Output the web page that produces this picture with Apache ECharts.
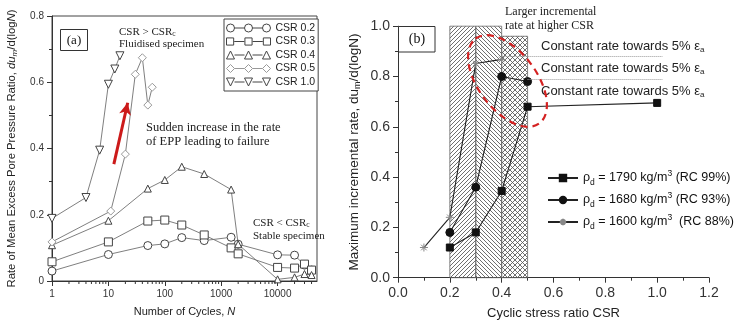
<!DOCTYPE html>
<html>
<head>
<meta charset="utf-8">
<script src="https://cdn.jsdelivr.net/npm/echarts@6/dist/echarts.min.js"></script>
<style>
html, body { margin: 0; padding: 0; background: #fff; }
#chart { width: 736px; height: 326px; }
</style>
</head>
<body>
<div id="chart"></div>
<script>
// ---- (a) 循环次数 - 平均超孔压比增长率 ----
var csrNames = ['CSR 0.2', 'CSR 0.3', 'CSR 0.4', 'CSR 0.5', 'CSR 1.0'];
var cyclesLong = [1, 10, 50, 100, 200, 500, 1500, 2000, 10000, 20000, 30000, 40000];
var rate02 = [0.030, 0.080, 0.107, 0.112, 0.131, 0.122, 0.132, 0.111, 0.079, 0.078, 0.048, 0.033];
var rate03 = [0.058, 0.118, 0.181, 0.184, 0.169, 0.139, 0.100, 0.082, 0.041, 0.039, 0.051, 0.033];
var rate04 = [0.108, 0.182, 0.279, 0.305, 0.345, 0.323, 0.276, 0.111, 0.005, 0.011, 0.021, 0.018];
var cycles05 = [1, 11, 20, 30, 40, 50, 60];
var rate05 = [0.118, 0.211, 0.383, 0.624, 0.674, 0.531, 0.585];
var cycles10 = [1, 4, 7, 10, 13, 16];
var rate10 = [0.189, 0.252, 0.395, 0.594, 0.640, 0.680];
var arrowFrom = [12.5, 0.353];
var arrowTo = [22, 0.538];
// 对数轴次刻度
var logDecades = [1, 10, 100, 1000, 10000];
var logMinorSteps = [2, 3, 4, 5, 6, 7, 8, 9];

// ---- (b) CSR - 最大增长率 ----
var densityNames = ['1790', '1680', '1600'];
var rcValues = [99, 93, 88];
var csr1790 = [0.2, 0.3, 0.4, 0.5, 1.0];
var maxRate1790 = [0.12, 0.18, 0.345, 0.68, 0.695];
var csr1680 = [0.2, 0.3, 0.4, 0.5];
var maxRate1680 = [0.18, 0.36, 0.80, 0.78];
var csr1600 = [0.1, 0.2, 0.3, 0.4];
var maxRate1600 = [0.12, 0.24, 0.852, 0.868];
var bandEdges = [0.2, 0.3, 0.4, 0.5];
var bandTops = [1.0, 1.0, 0.96];
var constFrom = [0.4, 0.5];
var constLevel = [0.88, 0.79];
var constTo = 1.02;

var SANS = 'Liberation Sans, Arial, sans-serif';
var SERIF = 'Liberation Serif, Times New Roman, serif';
var LOG_MAX = 50000;

function zip(xs, ys) {
  return xs.map(function (x, i) { return [x, ys[i]]; });
}

// 斜线填充
function hatch(kind) {
  var s = kind === 'cross' ? 5 : 4;
  var c = document.createElement('canvas');
  c.width = s; c.height = s;
  var g = c.getContext('2d');
  g.strokeStyle = '#555';
  g.lineWidth = 0.85;
  g.beginPath();
  if (kind === 'fwd' || kind === 'cross') {
    g.moveTo(0, s); g.lineTo(s, 0);
    g.moveTo(-1, 1); g.lineTo(1, -1);
    g.moveTo(s - 1, s + 1); g.lineTo(s + 1, s - 1);
  }
  if (kind === 'back' || kind === 'cross') {
    g.moveTo(0, 0); g.lineTo(s, s);
    g.moveTo(-1, s - 1); g.lineTo(1, s + 1);
    g.moveTo(s - 1, -1); g.lineTo(s + 1, 1);
  }
  g.stroke();
  return { image: c, repeat: 'repeat' };
}

// 图例：线 + 三个符号
var iconCx = [4, 22, 40];
function legendIcon(shape) {
  var p = '';
  iconCx.forEach(function (cx, i) {
    if (shape === 'circle') p += 'M' + (cx + 4) + ',5A4,4 0 1,1 ' + (cx - 4) + ',5A4,4 0 1,1 ' + (cx + 4) + ',5Z';
    if (shape === 'rect') p += 'M' + (cx - 3.5) + ',1.5L' + (cx + 3.5) + ',1.5L' + (cx + 3.5) + ',8.5L' + (cx - 3.5) + ',8.5Z';
    if (shape === 'tri') p += 'M' + (cx - 4) + ',9L' + cx + ',1L' + (cx + 4) + ',9Z';
    if (shape === 'dia') p += 'M' + cx + ',1L' + (cx + 4) + ',5L' + cx + ',9L' + (cx - 4) + ',5Z';
    if (shape === 'down') p += 'M' + (cx - 4) + ',1L' + (cx + 4) + ',1L' + cx + ',9Z';
    if (i < iconCx.length - 1) p += 'M' + (cx + 4) + ',5L' + (iconCx[i + 1] - 4) + ',5';
  });
  return 'path://' + p;
}
var legendShapes = ['circle', 'rect', 'tri', 'dia', 'down'];
var legendStroke = ['#444', '#444', '#444', '#999', '#444'];

var downTri = 'path://M0,0L10,0L5,9Z';
var asterisk = 'path://M0,5L10,5M5,0L5,10M1.5,1.5L8.5,8.5M8.5,1.5L1.5,8.5';

function seriesA(name, data, symbol, size, stroke) {
  return {
    name: name, type: 'line', xAxisIndex: 0, yAxisIndex: 0,
    data: data, symbol: symbol, symbolSize: size, showSymbol: true,
    lineStyle: { color: '#707070', width: 0.9 },
    itemStyle: { color: '#fff', borderColor: stroke, borderWidth: 1 },
    emphasis: { disabled: true }, z: 3
  };
}

function seriesB(name, xs, ys, symbol, size, fill, stroke) {
  return {
    name: name, type: 'line', xAxisIndex: 1, yAxisIndex: 1,
    data: zip(xs, ys), symbol: symbol, symbolSize: size, showSymbol: true,
    lineStyle: { color: '#222', width: 1.1 },
    itemStyle: { color: fill, borderColor: stroke, borderWidth: 1 },
    emphasis: { disabled: true }, z: 3
  };
}

var bandFills = [hatch('fwd'), hatch('back'), hatch('cross')];
var bandData = bandTops.map(function (top, i) {
  return [
    { xAxis: bandEdges[i], yAxis: 0, itemStyle: { color: bandFills[i], opacity: 1, borderColor: '#666', borderWidth: 0.8 } },
    { xAxis: bandEdges[i + 1], yAxis: top }
  ];
});

var constLines = constFrom.map(function (x0, i) {
  return [{ coord: [x0, constLevel[i]] }, { coord: [constTo, constLevel[i]] }];
});

var s1790 = seriesB('1790', csr1790, maxRate1790, 'rect', 7, '#111', '#111');
var s1680 = seriesB('1680', csr1680, maxRate1680, 'circle', 8, '#111', '#111');
var s1600 = seriesB('1600', csr1600, maxRate1600, asterisk, 8, 'none', '#888');
s1790.markArea = { silent: true, label: { show: false }, data: bandData, z: 1 };
s1600.markLine = {
  silent: true, symbol: 'none', label: { show: false },
  lineStyle: { type: 'dotted', color: '#999', width: 1 },
  data: constLines
};

var s05 = seriesA(csrNames[3], zip(cycles05, rate05), 'diamond', 8, '#999');
s05.markLine = {
  silent: true, symbol: ['none', 'arrow'], symbolSize: [9, 12], label: { show: false },
  lineStyle: { type: 'solid', color: '#cc1a1a', width: 3 },
  data: [[{ coord: arrowFrom }, { coord: arrowTo }]]
};

// 对数轴次刻度 (custom series 画在轴下方)
var minorTickData = [];
logDecades.forEach(function (d) {
  logMinorSteps.forEach(function (m) {
    if (d * m < LOG_MAX) minorTickData.push([d * m, 0]);
  });
});
var logMinorSeries = {
  type: 'custom', xAxisIndex: 0, yAxisIndex: 0, silent: true, clip: false,
  data: minorTickData, z: 5,
  renderItem: function (params, api) {
    var p = api.coord([api.value(0), 0]);
    return { type: 'line', shape: { x1: p[0], y1: p[1], x2: p[0], y2: p[1] + 3 }, style: { stroke: '#333', lineWidth: 1 } };
  }
};

function axisCommon() {
  return {
    axisLine: { onZero: false, lineStyle: { color: '#333', width: 1 } },
    axisTick: { length: 5, lineStyle: { color: '#333' } },
    minorTick: { show: true, splitNumber: 2, length: 3, lineStyle: { color: '#333' } },
    splitLine: { show: false }
  };
}

var xA = Object.assign(axisCommon(), {
  type: 'log', gridIndex: 0, logBase: 10, min: 1, max: LOG_MAX,
  name: 'Number of Cycles, {i|N}', nameLocation: 'middle', nameGap: 25,
  nameTextStyle: { fontSize: 11, fontFamily: SANS, color: '#222', rich: { i: { fontStyle: 'italic', fontSize: 11, fontFamily: SANS } } },
  axisLabel: { fontSize: 10, fontFamily: SANS, color: '#333', showMaxLabel: false, formatter: function (v) { return String(v); } }
});
xA.minorTick = { show: false };

var yA = Object.assign(axisCommon(), {
  type: 'value', gridIndex: 0, min: 0, max: 0.8, interval: 0.2,
  name: 'Rate of Mean Excess Pore Pressure Ratio, {i|du}{s|m}/d(log{i|N})',
  nameLocation: 'middle', nameGap: 33,
  nameTextStyle: {
    fontSize: 11.3, fontFamily: SANS, color: '#222', lineHeight: 14,
    rich: {
      i: { fontStyle: 'italic', fontSize: 11.3, fontFamily: SANS, lineHeight: 14 },
      s: { fontStyle: 'italic', fontSize: 8, fontFamily: SANS, lineHeight: 8, verticalAlign: 'bottom' }
    }
  },
  axisLabel: { fontSize: 10, fontFamily: SANS, color: '#333' }
});

var xB = Object.assign(axisCommon(), {
  type: 'value', gridIndex: 1, min: 0, max: 1.2, interval: 0.2,
  name: 'Cyclic stress ratio CSR', nameLocation: 'middle', nameGap: 29,
  nameTextStyle: { fontSize: 13, fontFamily: SANS, color: '#222' },
  axisLabel: { fontSize: 14, fontFamily: SANS, color: '#333', formatter: function (v) { return v.toFixed(1); } }
});

var yB = Object.assign(axisCommon(), {
  type: 'value', gridIndex: 1, min: 0, max: 1.0, interval: 0.2,
  name: 'Maximum incremental rate, du{s|m}/d(logN)',
  nameLocation: 'middle', nameGap: 36,
  nameTextStyle: {
    fontSize: 13.5, fontFamily: SANS, color: '#222', lineHeight: 16,
    rich: { s: { fontSize: 9, fontFamily: SANS, lineHeight: 9, verticalAlign: 'bottom' } }
  },
  axisLabel: { fontSize: 14, fontFamily: SANS, color: '#333', formatter: function (v) { return v.toFixed(1); } }
});

var myChart = echarts.init(document.getElementById('chart'), null, { renderer: 'canvas' });

var constText = '{t|Constant rate towards 5% ε}{s|a}';
var constRich = { t: { fontSize: 13, fontFamily: SANS, lineHeight: 15 }, s: { fontSize: 8, fontFamily: SANS, lineHeight: 8, verticalAlign: 'bottom' } };
var csrRich = { t: { fontSize: 11, fontFamily: SERIF, lineHeight: 13 }, s: { fontSize: 7.5, fontFamily: SERIF, lineHeight: 7, verticalAlign: 'bottom' } };

var option = {
  animation: false,
  backgroundColor: '#fff',
  grid: [
    { left: 52, top: 16, width: 265, height: 265, show: true, borderColor: '#444', borderWidth: 1, backgroundColor: 'transparent' },
    { left: 398, top: 26.2, width: 311, height: 251.5 }
  ],
  xAxis: [xA, xB],
  yAxis: [yA, yB],
  legend: [
    {
      left: 224, top: 19, orient: 'vertical', padding: [3, 3, 3, 2],
      itemWidth: 44, itemHeight: 8, itemGap: 1.5,
      backgroundColor: '#fff', borderColor: '#444', borderWidth: 1,
      textStyle: { fontSize: 10.5, fontFamily: SANS, color: '#222', lineHeight: 12 },
      selectedMode: false,
      data: csrNames.map(function (n, i) {
        return { name: n, icon: legendIcon(legendShapes[i]), itemStyle: { color: '#fff', borderColor: legendStroke[i], borderWidth: 1 } };
      })
    },
    {
      left: 547, top: 169, orient: 'vertical', padding: 0,
      itemWidth: 30, itemHeight: 8, itemGap: 4, selectedMode: false,
      data: densityNames,
      formatter: function (name) {
        var i = densityNames.indexOf(name);
        return '{t|ρ}{s|d}{t| = ' + name + ' kg/m}{p|3}{t|' + (i === 2 ? '  ' : ' ') + '(RC ' + rcValues[i] + '%)}';
      },
      textStyle: {
        fontSize: 12.5, fontFamily: SANS, color: '#111',
        rich: {
          t: { fontSize: 12.5, fontFamily: SANS, color: '#111', lineHeight: 18 },
          s: { fontSize: 8.5, fontFamily: SANS, color: '#111', lineHeight: 9, verticalAlign: 'bottom' },
          p: { fontSize: 8.5, fontFamily: SANS, color: '#111', lineHeight: 9, verticalAlign: 'top' }
        }
      }
    }
  ],
  series: [
    seriesA(csrNames[0], zip(cyclesLong, rate02), 'circle', 8, '#444'),
    seriesA(csrNames[1], zip(cyclesLong, rate03), 'rect', 8, '#444'),
    seriesA(csrNames[2], zip(cyclesLong, rate04), 'triangle', 7, '#444'),
    s05,
    seriesA(csrNames[4], zip(cycles10, rate10), downTri, 8, '#444'),
    logMinorSeries,
    s1790, s1680, s1600
  ],
  graphic: [
    { type: 'rect', shape: { x: 60.5, y: 29.5, width: 27, height: 21 }, style: { fill: '#fff', stroke: '#333', lineWidth: 1 }, z: 50 },
    { type: 'text', x: 74, y: 40.5, style: { text: '(a)', fontSize: 13, fontFamily: SERIF, fill: '#111', align: 'center', verticalAlign: 'middle' }, z: 51 },
    { type: 'text', x: 119, y: 32, style: { text: '{t|CSR > CSR}{s|c}', fill: '#222', verticalAlign: 'middle', rich: csrRich }, z: 50 },
    { type: 'text', x: 119, y: 44.5, style: { text: 'Fluidised specimen', fontSize: 11, fontFamily: SERIF, fill: '#222', verticalAlign: 'middle' }, z: 50 },
    { type: 'text', x: 146, y: 128, style: { text: 'Sudden increase in the rate', fontSize: 12.5, fontFamily: SERIF, fill: '#222', verticalAlign: 'middle' }, z: 50 },
    { type: 'text', x: 146, y: 142, style: { text: 'of EPP leading to failure', fontSize: 12.5, fontFamily: SERIF, fill: '#222', verticalAlign: 'middle' }, z: 50 },
    { type: 'text', x: 253, y: 223, style: { text: '{t|CSR < CSR}{s|c}', fill: '#222', verticalAlign: 'middle', rich: csrRich }, z: 50 },
    { type: 'text', x: 253, y: 236, style: { text: 'Stable specimen', fontSize: 11, fontFamily: SERIF, fill: '#222', verticalAlign: 'middle' }, z: 50 },

    { type: 'rect', shape: { x: 398.5, y: 26.5, width: 36.5, height: 25.5 }, style: { fill: '#fff', stroke: '#333', lineWidth: 1 }, z: 50 },
    { type: 'text', x: 417, y: 39.5, style: { text: '(b)', fontSize: 14, fontFamily: SERIF, fill: '#111', align: 'center', verticalAlign: 'middle' }, z: 51 },
    { type: 'text', x: 505, y: 12, style: { text: 'Larger incremental', fontSize: 12, fontFamily: SERIF, fill: '#222', verticalAlign: 'middle' }, z: 50 },
    { type: 'text', x: 505, y: 26, style: { text: 'rate at higher CSR', fontSize: 12, fontFamily: SERIF, fill: '#222', verticalAlign: 'middle' }, z: 50 },
    { type: 'text', x: 541, y: 46, style: { text: constText, fill: '#222', verticalAlign: 'middle', rich: constRich }, z: 50 },
    { type: 'text', x: 541, y: 68.5, style: { text: constText, fill: '#222', verticalAlign: 'middle', rich: constRich }, z: 50 },
    { type: 'text', x: 541, y: 91, style: { text: constText, fill: '#222', verticalAlign: 'middle', rich: constRich }, z: 50 },
    { type: 'ellipse', x: 507.5, y: 81, rotation: -53 * Math.PI / 180, shape: { cx: 0, cy: 0, rx: 53, ry: 29 }, style: { fill: 'none', stroke: '#d42222', lineWidth: 2.2, lineDash: [7, 5] }, z: 60 }
  ]
};

myChart.setOption(option);
</script>
</body>
</html>
